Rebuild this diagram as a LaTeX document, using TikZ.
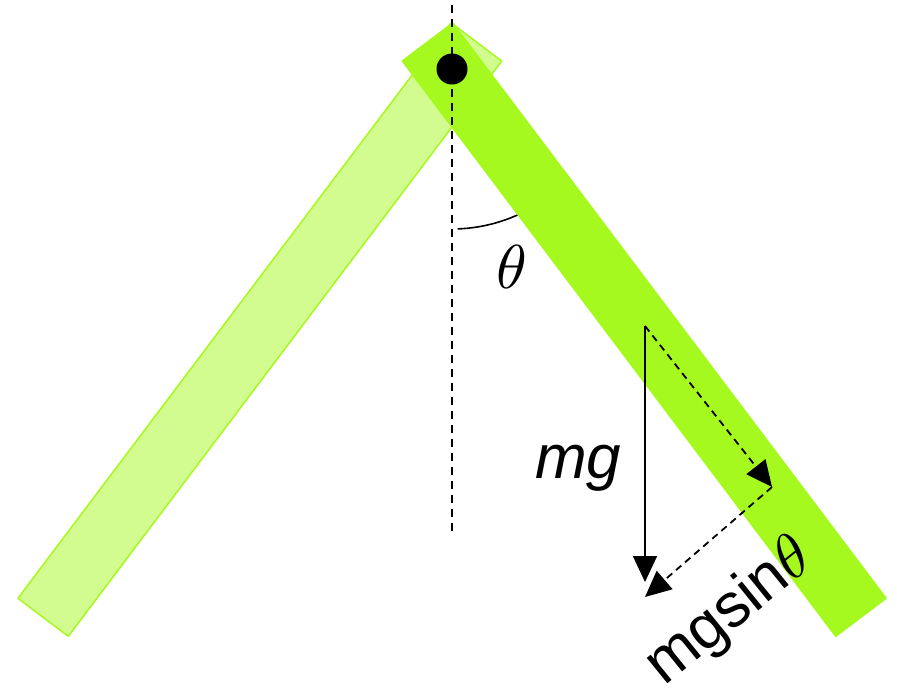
\documentclass[tikz,border=0pt]{standalone}
\usepackage{graphicx}
\usepackage{fontspec}
\setsansfont{Liberation Sans}
\usetikzlibrary{arrows.meta}
\definecolor{barg}{RGB}{166,249,31}
\newcommand{\bigtheta}{\scalebox{6.2}{\fontsize{10}{12}\selectfont$\theta$}}
\begin{document}
\begin{tikzpicture}[x=1pt,y=1pt,
  bar/.style={fill=barg,draw=barg,line width=1.5pt,line join=round},
  ghostbar/.style={fill=barg,fill opacity=0.5,draw=barg,line width=1.5pt,line join=round},
  axisline/.style={dashed,dash pattern=on 8pt off 6pt,line width=2.6pt},
  force/.style={line width=1.8pt,-{Triangle[length=26pt,width=24pt]}},
  dforce/.style={force,dash pattern=on 7pt off 5pt},
  lbl/.style={inner sep=0pt,font=\fontsize{62}{70}\selectfont}]
\useasboundingbox (0,0) rectangle (897,-689);
% angle arc
\coordinate (P) at (452,-69);
\draw[line width=1.6pt] (P) ++(272:160) arc[start angle=272,end angle=300,radius=160pt];
% bars
\draw[ghostbar] (501.7,-61) -- (451.3,-23) -- (17.9,-598.3) -- (68.3,-636.3) -- cycle;
\draw[bar] (402.3,-61) -- (452.7,-23) -- (886.1,-598.3) -- (835.7,-636.3) -- cycle;
% vertical axis
\coordinate (vtop) at (452,-5);
\coordinate (vbot) at (452,-532);
\draw[axisline] (vtop) -- (vbot);
% pivot
\node[circle,fill=black,minimum size=31pt,inner sep=0pt] (pivot) at (P) {};
% forces
\coordinate (G) at (645,-326);
\coordinate (Gend) at (645,-582);
\coordinate (Par) at (772,-487);
\coordinate (Perp) at (645,-597);
\draw[force] (G) -- (Gend);
\draw[dforce] (G) -- (Par);
\draw[dforce] (Par) -- (Perp);
% labels
\node[lbl,anchor=base] (theta) at (512,-288) {\bigtheta};
\node[lbl,anchor=base west,font=\fontsize{62}{70}\selectfont\sffamily\itshape] (mg) at (535,-478) {mg};
\node[lbl,anchor=base west,rotate=39,font=\fontsize{62}{70}\selectfont\sffamily] (mgsin) at (664,-687) {mgsin\bigtheta};
\end{tikzpicture}
\end{document}
